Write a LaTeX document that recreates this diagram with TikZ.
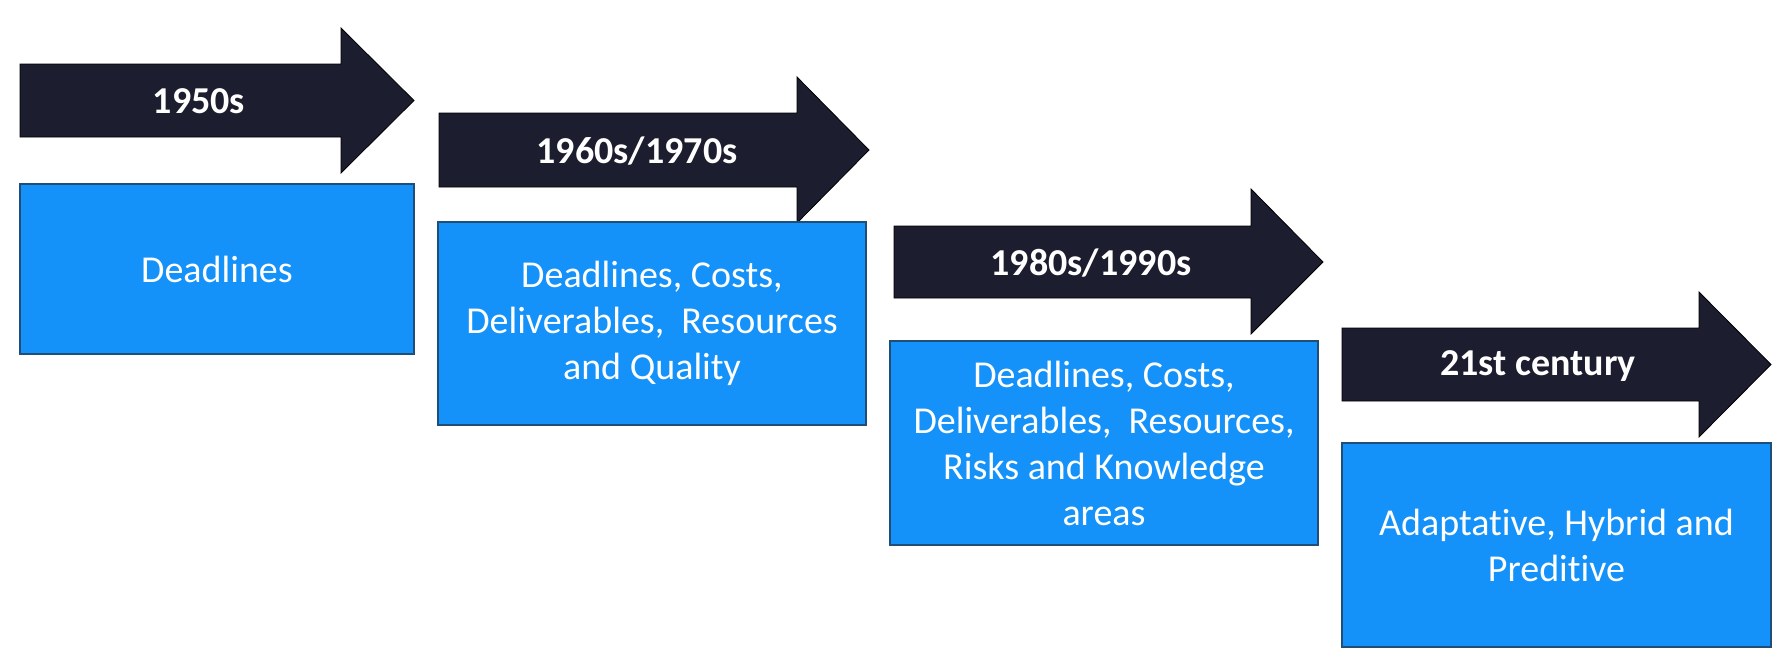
\documentclass[tikz,border=0pt]{standalone}
\usepackage{fontspec}
\setmainfont{Carlito}[Ligatures={NoCommon}]
\definecolor{navy}{HTML}{1D1D30}
\definecolor{boxblue}{HTML}{1592F9}
\definecolor{boxedge}{HTML}{1F4E79}
\begin{document}
\begin{tikzpicture}[x=0.75pt,y=-0.75pt,
  arrowshape/.style={fill=navy,draw=black,line width=0.6pt,line join=miter},
  arrowlabel/.style={text=white,font=\fontsize{28.5}{34}\selectfont\bfseries,inner sep=0pt},
  infobox/.style={fill=boxblue,draw=boxedge,line width=0.9pt,text=white,align=center,
    font=\fontsize{28.5}{34.5}\selectfont,inner sep=0pt}]
\useasboundingbox (0,0) rectangle (1786,664);
% arrows
\draw[arrowshape] (20,64) -- (341,64) -- (341,28) -- (414,100.5) -- (341,173) -- (341,137) -- (20,137) -- cycle;
\node[arrowlabel] (a1) at (199,101) {1950s};
\draw[arrowshape] (439,113) -- (797,113) -- (797,77) -- (869,150) -- (797,223) -- (797,187) -- (439,187) -- cycle;
\node[arrowlabel] (a2) at (637,151) {1960s/1970s};
\draw[arrowshape] (894,226) -- (1251,226) -- (1251,189) -- (1323,262) -- (1251,334) -- (1251,298) -- (894,298) -- cycle;
\node[arrowlabel] (a3) at (1091,263) {1980s/1990s};
\draw[arrowshape] (1342,328) -- (1699,328) -- (1699,292) -- (1771,364.5) -- (1699,437) -- (1699,401) -- (1342,401) -- cycle;
\node[arrowlabel] (a4) at (1538,366) {21st century};
% boxes
\node[infobox,minimum width=295.5pt,minimum height=127.5pt] (b1) at (217,269) {Deadlines};
\node[infobox,minimum width=321pt,minimum height=152.25pt] (b2) at (652,323.5) {Deadlines, Costs,\\Deliverables,\ \ Resources\\and Quality};
\node[infobox,minimum width=321pt,minimum height=153pt] (b3) at (1104,443) {Deadlines, Costs,\\Deliverables,\ \ Resources,\\Risks and Knowledge\\areas};
\node[infobox,minimum width=321.75pt,minimum height=153pt] (b4) at (1556.5,545) {Adaptative, Hybrid and\\Preditive};
\end{tikzpicture}
\end{document}
